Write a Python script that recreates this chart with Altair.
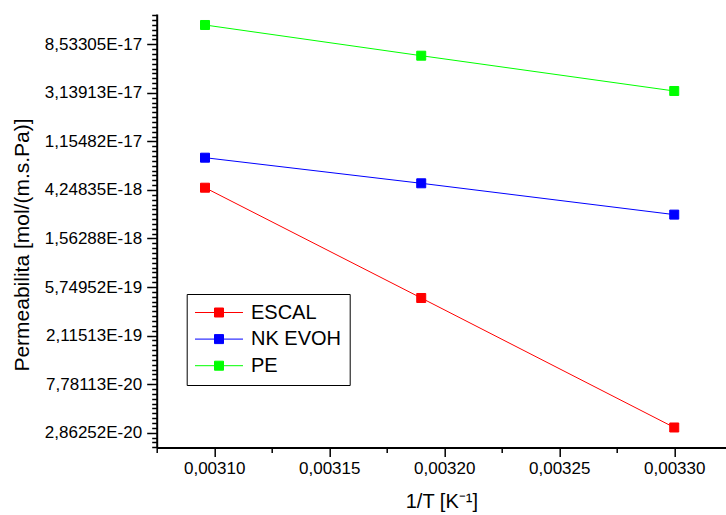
import math
import altair as alt
import pandas as pd

# ---- data ----
inv_T = [0.003096, 0.003190, 0.003300]
escal = [4.449e-18, 4.589e-19, 3.186e-20]
nk_evoh = [8.255e-18, 4.872e-18, 2.556e-18]
pe = [1.2698e-16, 6.747e-17, 3.261e-17]
series_names = ["ESCAL", "NK EVOH", "PE"]
series_colors = ["#ff0000", "#0000ff", "#00ff00"]

y_tick_values = [8.53305e-17, 3.13913e-17, 1.15482e-17, 4.24835e-18, 1.56288e-18,
                 5.74952e-19, 2.11513e-19, 7.78113e-20, 2.86252e-20]
x_tick_values = [0.00310, 0.00315, 0.00320, 0.00325, 0.00330]
x_minor_values = [0.003075, 0.003125, 0.003175, 0.003225, 0.003275]

x_domain = [0.003075, 0.0033225]
y_domain = [2.110e-20, 1.5926e-16]

# minor ticks of the ln axis (decoration, between the major e-power ticks)
y_minor_values = []
for v in [y_tick_values[0] * math.e] + y_tick_values:
    for j in range(1, 10):
        m = v * math.exp(-j / 10)
        if y_domain[0] <= m <= y_domain[1]:
            y_minor_values.append(m)

rows = []
for name, vals in zip(series_names, [escal, nk_evoh, pe]):
    for xv, yv in zip(inv_T, vals):
        rows.append({"x": xv, "value": yv, "series": name})
df = pd.DataFrame(rows)

FONT = "Liberation Sans"
W, H = 569.3, 433.5

xscale = alt.Scale(domain=x_domain, zero=False, nice=False)
yscale = alt.Scale(type="log", domain=y_domain, nice=False)
cscale = alt.Scale(domain=series_names, range=series_colors)

path = "M-5.33,0H-1.1M1.1,0H5.33M-1,-1H1V1H-1Z"
legend = alt.Legend(orient="none", legendX=30, legendY=280, title=None,
                    padding=8.5, strokeColor="black", fillColor="white",
                    symbolType=path, symbolSize=81, symbolStrokeWidth=1,
                    symbolOpacity=1, symbolOffset=13.8, labelOffset=22,
                    rowPadding=6.6, labelFontSize=20, labelFont=FONT,
                    labelColor="black")

X_MAJOR = "abs(datum.value * 20000 - round(datum.value * 20000)) < 0.01"
Y_MAJOR = "abs(log(datum.value) - round(log(datum.value))) < 0.02"
X_FMT = "replace(format(datum.value, '.5f'), '.', ',')"
Y_FMT = ("replace(format(datum.value / pow(10, floor(log(datum.value)/LN10)), '.5f'), '.', ',')"
         " + 'E' + floor(log(datum.value)/LN10)")


def build(minor_in_axis):
    if minor_in_axis:
        x_vals = sorted(x_tick_values + x_minor_values)
        y_vals = sorted(y_tick_values + y_minor_values)
        x_lab = "(" + X_MAJOR + ") ? " + X_FMT + " : ''"
        y_lab = "(" + Y_MAJOR + ") ? " + Y_FMT + " : ''"
        x_ts = {"condition": {"test": X_MAJOR, "value": 9}, "value": 5}
        y_ts = {"condition": {"test": Y_MAJOR, "value": 10}, "value": 5}
    else:
        x_vals, y_vals = x_tick_values, y_tick_values
        x_lab, y_lab = X_FMT, Y_FMT
        x_ts, y_ts = 9, 10

    x_axis = alt.Axis(values=x_vals, orient="bottom", labelExpr=x_lab,
                      tickCount=500, labelOverlap=False, labelFlush=False,
                      title="1/T [K⁻¹]", titleFont=FONT, titleFontSize=20,
                      titleFontWeight="normal", titleColor="black",
                      titleY=53.5, titleBaseline="middle",
                      labelFont=FONT, labelFontSize=17, labelColor="black",
                      labelPadding=4,
                      tickSize=x_ts, tickWidth=1.5, tickColor="black",
                      domainWidth=2, domainColor="black", grid=False)

    y_axis = alt.Axis(values=y_vals, orient="left", labelExpr=y_lab,
                      tickCount=500, labelOverlap=False,
                      title="Permeabilita [mol/(m.s.Pa)]", titleFont=FONT,
                      titleFontSize=21, titleFontWeight="normal", titleColor="black",
                      titleX=22 - 156.7, titleY=230.5, titleBaseline="middle",
                      titleAlign="center",
                      labelFont=FONT, labelFontSize=17, labelColor="black",
                      labelPadding=5, tickSize=y_ts, tickWidth=1.5, tickColor="black",
                      domainWidth=2, domainColor="black", grid=False)

    base = alt.Chart(df)
    lines = base.mark_line(strokeWidth=1).encode(
        x=alt.X("x:Q", scale=xscale, axis=x_axis),
        y=alt.Y("value:Q", scale=yscale, axis=y_axis),
        stroke=alt.Stroke("series:N", scale=cscale, legend=legend),
        detail="series:N",
    )
    points = base.mark_point(shape="square", filled=True, size=81, strokeWidth=1,
                             opacity=1).encode(
        x=alt.X("x:Q", scale=xscale, axis=None),
        y=alt.Y("value:Q", scale=yscale, axis=None),
        fill=alt.Fill("series:N", scale=cscale, legend=legend),
        stroke=alt.Stroke("series:N", scale=cscale, legend=legend),
    )
    layers = [lines, points]
    if not minor_in_axis:
        ymin_df = pd.DataFrame({"value": y_minor_values})
        layers.append(alt.Chart(ymin_df).mark_rule(strokeWidth=1.5, color="black").encode(
            y=alt.Y("value:Q", scale=yscale, axis=None),
            x=alt.value(-5), x2=alt.value(0)))
        xmin_df = pd.DataFrame({"x": x_minor_values})
        layers.append(alt.Chart(xmin_df).mark_rule(strokeWidth=1.5, color="black").encode(
            x=alt.X("x:Q", scale=xscale, axis=None),
            y=alt.value(H), y2=alt.value(H + 5)))

    return alt.layer(*layers).resolve_axis(
        x="independent", y="independent"
    ).properties(
        width=W, height=H,
        autosize=alt.AutoSizeParams(type="none"),
        padding={"left": 156.7, "top": 14, "right": 0, "bottom": 515 - 14 - H},
        background="white",
    ).configure_view(stroke=None)


try:
    chart = build(True)
    chart.to_dict()
except Exception:
    chart = build(False)

chart.save("out.html", embed_options={"renderer": "svg", "actions": False})
